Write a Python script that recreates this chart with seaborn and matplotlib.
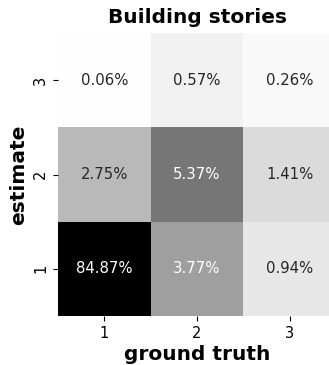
import numpy as np
import pandas as pd
import matplotlib
matplotlib.use("Agg")
import matplotlib.pyplot as plt
import seaborn as sns

# Confusion matrix of building stories, percentages of all samples
ground_truth = ["1", "2", "3"]
estimate = ["3", "2", "1"]  # top row first
row_est3 = [0.06, 0.57, 0.26]
row_est2 = [2.75, 5.37, 1.41]
row_est1 = [84.87, 3.77, 0.94]

plt.rcParams["font.family"] = ["DejaVu Sans"]

df = pd.DataFrame([row_est3, row_est2, row_est1], index=estimate, columns=ground_truth)
labels = df.map(lambda v: f"{v:.2f}%")

fig = plt.figure(figsize=(3.29, 3.65), dpi=100)
ax = fig.add_axes([58 / 329, 49 / 365, 278 / 329, 283 / 365])

sns.heatmap(df, ax=ax, cmap="gray_r", vmin=0, vmax=10, annot=labels, fmt="",
            annot_kws={"fontsize": 10.7}, cbar=False, square=False)

ax.set_title("Building stories", fontsize=14.5, fontweight="bold", pad=7)
ax.set_xlabel("ground truth", fontsize=14.5, fontweight="bold", labelpad=3)
ax.set_ylabel("estimate", fontsize=14.5, fontweight="bold", labelpad=4)
ax.tick_params(axis="both", labelsize=10.5, length=3.5, width=0.8)
plt.setp(ax.get_yticklabels(), rotation=90, va="center")
plt.setp(ax.get_xticklabels(), rotation=0)

fig.savefig("out.png", dpi=100)
